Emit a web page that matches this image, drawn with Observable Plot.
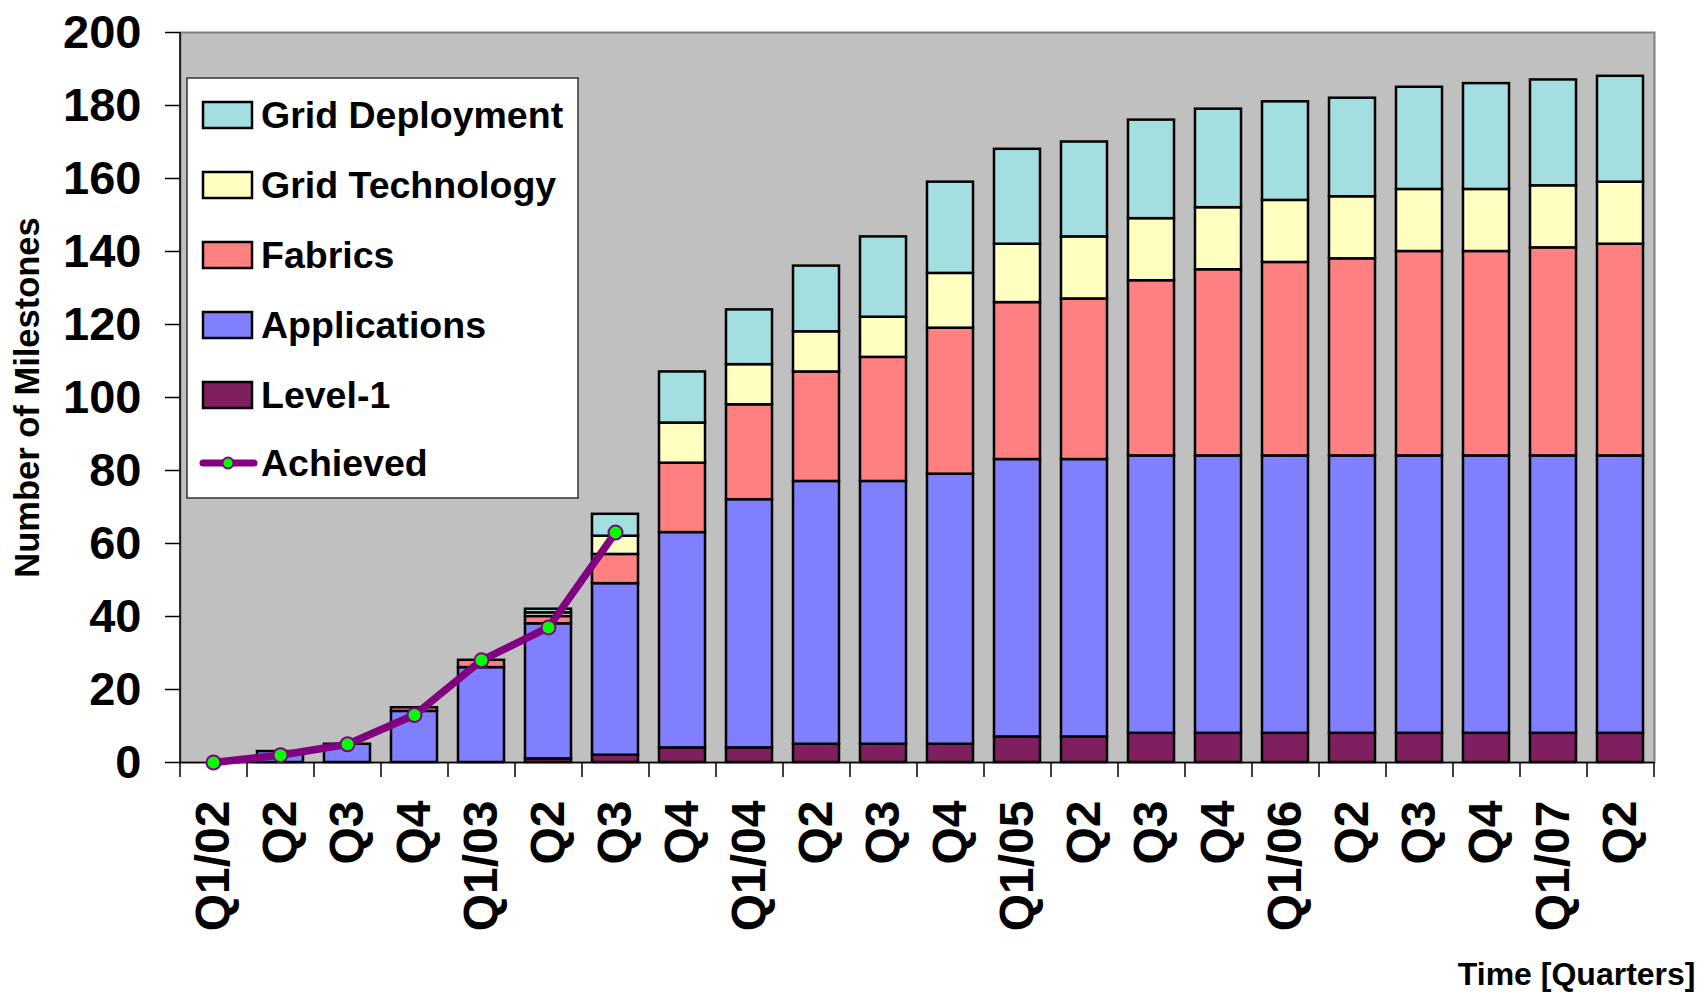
<!DOCTYPE html>
<html><head><meta charset="utf-8">
<script src="https://cdn.jsdelivr.net/npm/d3@7"></script>
<script src="https://cdn.jsdelivr.net/npm/@observablehq/plot@0.6"></script>
<style>
html,body{margin:0;padding:0;background:#fff;}
#chart{position:relative;width:1700px;height:994px;}
</style></head><body><div id="chart"></div>
<script>
// ---- data ----
const quarterLabels = ["Q1/02","Q2","Q3","Q4","Q1/03","Q2","Q3","Q4","Q1/04","Q2","Q3","Q4","Q1/05","Q2","Q3","Q4","Q1/06","Q2","Q3","Q4","Q1/07","Q2"];
const seriesNames = ["Level-1","Applications","Fabrics","Grid Technology","Grid Deployment"];
const seriesColors = ["#7F1F5F","#8080FF","#FF8080","#FFFFC0","#A3DFE0"];
const level1       = [0,0,0,0,0,1,2,4,4,5,5,5,7,7,8,8,8,8,8,8,8,8];
const applications = [0,3,5,14,26,37,47,59,68,72,72,74,76,76,76,76,76,76,76,76,76,76];
const fabrics      = [0,0,0,1,2,2,8,19,26,30,34,40,43,44,48,51,53,54,56,56,57,58];
const technology   = [0,0,0,0,0,1,5,11,11,11,11,15,16,17,17,17,17,17,17,17,17,17];
const deployment   = [0,0,0,0,0,1,6,14,15,18,22,25,26,26,27,27,27,27,28,29,29,29];
const achieved     = [0,2,5,13,28,37,63];
const yTicks = [0,20,40,60,80,100,120,140,160,180,200];

// ---- layout ----
const W = 1700, H = 994, mL = 180, mR = 46, mT = 32, mB = 232;
const n = quarterLabels.length;
const padInner = 0.31;
const step = (W - mL - mR) / n;
const font = "'Liberation Sans', Arial, Helvetica, sans-serif";

const quarters = d3.range(n);
const seriesValues = [level1, applications, fabrics, technology, deployment];
const bars = [];
seriesNames.forEach((s, k) => {
  seriesValues[k].forEach((v, i) => { if (v > 0) bars.push({q: i, series: s, value: v}); });
});
const achievedData = achieved.map((v, i) => ({q: i, v}));

const plot = Plot.plot({
  width: W, height: H,
  marginLeft: mL, marginRight: mR, marginTop: mT, marginBottom: mB,
  style: {fontFamily: font, background: "#fff", color: "#000", overflow: "visible"},
  x: {type: "band", domain: quarters, paddingInner: padInner, paddingOuter: padInner / 2, axis: null, label: null},
  y: {domain: [0, 200], axis: null, label: null},
  color: {domain: seriesNames, range: seriesColors},
  marks: [
    Plot.frame({fill: "#C0C0C0", stroke: "#808080", strokeWidth: 2}),
    Plot.barY(bars, {x: "q", y: "value", z: "series", fill: "series", order: seriesNames, stroke: "#000", strokeWidth: 2.5}),
    Plot.ruleY([0], {stroke: "#000", strokeWidth: 1.5}),
    Plot.ruleX([0], {dx: -step / 2, stroke: "#000", strokeWidth: 1.5}),
    Plot.axisX({ticks: quarters, tickSize: 15, tickFormat: () => "", dx: -step / 2, strokeWidth: 1.5, label: null}),
    Plot.axisX({ticks: [n - 1], tickSize: 15, tickFormat: () => "", dx: step / 2, strokeWidth: 1.5, label: null}),
    Plot.axisX({ticks: quarters, tickSize: 0, tickPadding: 38, tickRotate: -90, textAnchor: "end", lineAnchor: "middle",
                tickFormat: i => quarterLabels[i], fontSize: 48, fontWeight: "bold", label: null}),
    Plot.axisY({ticks: yTicks, tickSize: 15, tickPadding: 24, fontSize: 47, fontWeight: "bold", label: null, strokeWidth: 1.5}),
    Plot.line(achievedData, {x: "q", y: "v", stroke: "#800080", strokeWidth: 7.5, strokeLinejoin: "round", strokeLinecap: "round"}),
    Plot.dot(achievedData, {x: "q", y: "v", r: 7, fill: "#00FF00", stroke: "#800080", strokeWidth: 2}),
    Plot.text(["Number of Milestones"], {text: d => d, frameAnchor: "left", dx: -153, rotate: -90, fontSize: 34.5, fontWeight: "bold", textAnchor: "middle", lineAnchor: "middle"}),
    Plot.text(["Time [Quarters]"], {text: d => d, frameAnchor: "bottom-right", dx: 41, dy: 222, textAnchor: "end", lineAnchor: "bottom", fontSize: 32, fontWeight: "bold"})
  ]
});
document.getElementById("chart").appendChild(plot);

// ---- legend (inside plot area, top-left) ----
const svg = d3.select(plot);
const lg = svg.append("g").attr("font-family", font).attr("font-weight", "bold")
  .attr("font-size", 37.5).attr("text-anchor", "start").attr("fill", "#000");
const lx = 187, ly = 78, lw = 391, lh = 420;
lg.append("rect").attr("x", lx).attr("y", ly).attr("width", lw).attr("height", lh)
  .attr("fill", "#fff").attr("stroke", "#333").attr("stroke-width", 1.5);
const legendItems = seriesNames.map((s, k) => ({name: s, color: seriesColors[k]})).reverse();
const rowStep = 70, firstRow = ly + 37;
legendItems.forEach((it, i) => {
  const cy = firstRow + i * rowStep;
  lg.append("rect").attr("x", lx + 16).attr("y", cy - 13).attr("width", 49).attr("height", 26)
    .attr("fill", it.color).attr("stroke", "#000").attr("stroke-width", 2.5);
  lg.append("text").attr("x", lx + 74).attr("y", cy + 13).attr("text-anchor", "start").text(it.name);
});
{
  const cy = firstRow + legendItems.length * rowStep - 2;
  lg.append("line").attr("x1", lx + 16).attr("x2", lx + 67).attr("y1", cy).attr("y2", cy)
    .attr("stroke", "#800080").attr("stroke-width", 7).attr("stroke-linecap", "round");
  lg.append("circle").attr("cx", lx + 41).attr("cy", cy).attr("r", 5.5)
    .attr("fill", "#00FF00").attr("stroke", "#800080").attr("stroke-width", 2);
  lg.append("text").attr("x", lx + 74).attr("y", cy + 13).attr("text-anchor", "start").text("Achieved");
}
</script></body></html>
